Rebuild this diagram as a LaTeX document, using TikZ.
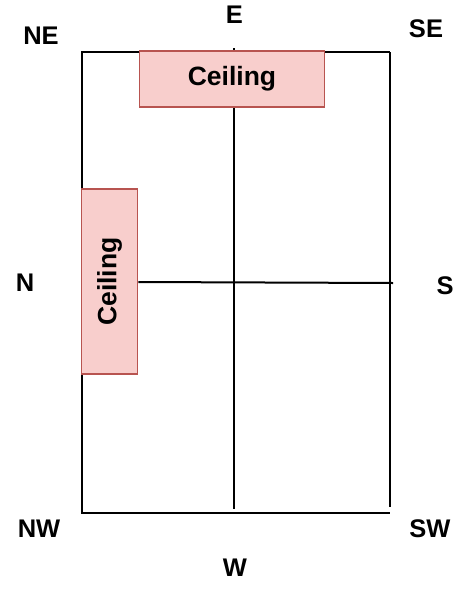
\documentclass[tikz,border=0pt]{standalone}
\usepackage{fontspec}
\setmainfont{Liberation Sans}
\definecolor{ceilfill}{HTML}{F8CECC}
\definecolor{ceildraw}{HTML}{B85450}
\begin{document}
\begin{tikzpicture}[x=1pt,y=-1pt,
  wall/.style={line width=2pt,black},
  lbl/.style={font=\fontsize{25.5}{25.5}\selectfont\bfseries,inner sep=0pt},
  ceiltext/.style={font=\fontsize{26.5}{26.5}\selectfont\bfseries,inner sep=0pt},
  ceilbox/.style={draw=ceildraw,fill=ceilfill,line width=1.6pt,inner sep=0pt}]
\useasboundingbox (0,0) rectangle (473,589);
% frame coordinates
\coordinate (tl) at (82,52);
\coordinate (tr) at (390,52);
\coordinate (bl) at (82,513);
\coordinate (br) at (390,513);
\coordinate (rb) at (390,507);
\coordinate (vt) at (234,48);
\coordinate (vb) at (234,509);
\coordinate (hr) at (393,283);
% walls
\draw[wall] (tr) -- (tl) -- (bl) -- (br);
\draw[wall] (tr) -- (rb);
\draw[wall] (vt) -- (vb);
% ceiling boxes
\node[ceilbox,ceiltext,minimum width=185pt,minimum height=56pt] (c1) at (232,79) {Ceiling};
\node[ceilbox,minimum width=56pt,minimum height=185pt] (c2) at (109.5,281.5) {};
\node[ceiltext,rotate=90] (c2t) at (c2.center) {Ceiling};
\draw[wall] (c2.east |- 0,282) -- (hr);
% labels
\node[lbl] (ne) at (41,36) {NE};
\node[lbl] (e) at (234.5,15) {E};
\node[lbl] (se) at (426,29) {SE};
\node[lbl] (n) at (25,283) {N};
\node[lbl] (s) at (445,286) {S};
\node[lbl] (nw) at (39,529) {NW};
\node[lbl] (w) at (235,567.5) {W};
\node[lbl] (sw) at (430,529) {SW};
\end{tikzpicture}
\end{document}
